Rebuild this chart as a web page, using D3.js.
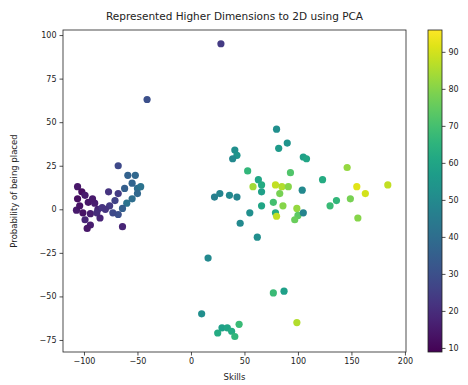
<!DOCTYPE html>
<html>
<head>
<meta charset="utf-8">
<script src="https://cdn.jsdelivr.net/npm/d3@7"></script>
<style>
  body { margin: 0; background: #fff; }
  svg text { font-family: "DejaVu Sans", sans-serif; fill: #222; }
</style>
</head>
<body>
<svg id="chart"></svg>
<script>
// skills (PC1), probability of being placed (PC2), colour value
const skills = [
  -68, -59, -52, -55, -50, -50, -55, -60, -64, -68, -77, -68, -71, -76, -80, -87, -64,
  -106, -102, -99, -106, -96, -90, -107, -101, -94, -99, -94, -97, -88, -83, -104,
  -92, -85, -73, -62, -47,
  -41, 28,
  80, 82, 90, 41, 43, 39, 105, 108, 53, 93, 63, 66, 58, 79, 85, 91, 83, 104, 66,
  22, 27, 36, 43, 66, 77, 86, 55, 79, 80, 99, 100, 97, 46, 62, 123, 146, 155, 163,
  149, 156, 130, 136, 184, 105,
  16, 10, 77, 87, 99, 29, 34, 38, 25, 41, 45
];
const placed = [
  25, 19.5, 19.5, 15, 12, 9, 6, 3.5, 0.5, -3, 10, 9, 5, 2, 0, 0, -10,
  13, 10, 8, 6, 4, 3.5, -0.5, -2, -2.5, -6, -9, -11, -2, 1, 2,
  6, -5, -2, 12, 13,
  63, 95,
  46, 35, 38, 34, 31, 29, 30, 29, 22, 21, 17, 14, 13, 14, 13, 13, 9, 11, 10,
  7, 9, 8, 7, 2, 4, 2, -2, -2, -4, 0.5, -3.5, -6, -8, -16, 17, 24, 13, 9,
  6, -5, 2, 5, 14, -2,
  -28, -60, -48, -47, -65, -68, -68, -70, -71, -73, -66
];
const colorValue = [
  28, 36, 38, 37, 40, 38, 40, 42, 35, 30, 22, 24, 26, 24, 22, 18, 18,
  14, 12, 15, 12, 14, 16, 15, 13, 16, 18, 16, 14, 20, 22, 13,
  15, 18, 28, 35, 42,
  30, 24,
  52, 56, 54, 52, 54, 50, 58, 60, 66, 72, 60, 62, 84, 88, 86, 80, 78, 50, 58,
  46, 48, 50, 48, 60, 70, 80, 52, 62, 88, 82, 74, 76, 50, 52, 62, 82, 92, 90,
  78, 80, 68, 66, 88, 48,
  50, 52, 68, 58, 86, 58, 60, 62, 62, 66, 68
];
const xTicks = [-100, -50, 0, 50, 100, 150, 200];
const yTicks = [-75, -50, -25, 0, 25, 50, 75, 100];
const cTicks = [10, 20, 30, 40, 50, 60, 70, 80, 90];

const width = 468, height = 385;
const plot = { left: 63, right: 406, top: 30, bottom: 352 };
const bar = { left: 428, right: 442 };

const svg = d3.select('#chart')
  .attr('width', width)
  .attr('height', height);

const x = d3.scaleLinear().domain([-119.6, 201]).range([plot.left, plot.right]);
const y = d3.scaleLinear().domain([-81.9, 102.9]).range([plot.bottom, plot.top]);
const c = d3.scaleSequential(d3.interpolateViridis).domain([8.9, 95.9]);

const points = skills.map((s, i) => ({ s, p: placed[i], v: colorValue[i] }));

svg.append('g')
  .selectAll('circle')
  .data(points)
  .enter()
  .append('circle')
  .attr('cx', d => x(d.s))
  .attr('cy', d => y(d.p))
  .attr('r', 3.6)
  .attr('fill', d => c(d.v));

// frame
svg.append('rect')
  .attr('x', plot.left).attr('y', plot.top)
  .attr('width', plot.right - plot.left).attr('height', plot.bottom - plot.top)
  .attr('fill', 'none').attr('stroke', '#222').attr('stroke-width', 0.8);

const fmt = d => d < 0 ? '\u2212' + Math.abs(d) : d;
const xAxis = svg.append('g')
  .attr('transform', `translate(0,${plot.bottom})`)
  .call(d3.axisBottom(x).tickValues(xTicks).tickSize(3.5).tickPadding(3).tickFormat(fmt));
const yAxis = svg.append('g')
  .attr('transform', `translate(${plot.left},0)`)
  .call(d3.axisLeft(y).tickValues(yTicks).tickSize(3.5).tickPadding(3).tickFormat(fmt));
[xAxis, yAxis].forEach(a => {
  a.select('.domain').remove();
  a.selectAll('.tick line').attr('stroke', '#222').attr('stroke-width', 0.8);
  a.selectAll('.tick text').style('font-size', '8px').attr('fill', '#333');
});

svg.append('text')
  .attr('x', (plot.left + plot.right) / 2).attr('y', 20)
  .attr('text-anchor', 'middle')
  .style('font-size', '10.5px')
  .text('Represented Higher Dimensions to 2D using PCA');

svg.append('text')
  .attr('x', (plot.left + plot.right) / 2).attr('y', 380)
  .attr('text-anchor', 'middle')
  .style('font-size', '8.5px')
  .text('Skills');

svg.append('text')
  .attr('transform', `translate(17,${(plot.top + plot.bottom) / 2}) rotate(-90)`)
  .attr('text-anchor', 'middle')
  .style('font-size', '8.5px')
  .text('Probability of being placed');

// colorbar
const defs = svg.append('defs');
const grad = defs.append('linearGradient')
  .attr('id', 'viridis').attr('x1', 0).attr('y1', 1).attr('x2', 0).attr('y2', 0);
d3.range(0, 1.01, 0.05).forEach(t => {
  grad.append('stop').attr('offset', t).attr('stop-color', d3.interpolateViridis(t));
});
svg.append('rect')
  .attr('x', bar.left).attr('y', plot.top)
  .attr('width', bar.right - bar.left).attr('height', plot.bottom - plot.top)
  .attr('fill', 'url(#viridis)')
  .attr('stroke', '#222').attr('stroke-width', 0.8);

const cScale = d3.scaleLinear().domain(c.domain()).range([plot.bottom, plot.top]);
const cAxis = svg.append('g')
  .attr('transform', `translate(${bar.right},0)`)
  .call(d3.axisRight(cScale).tickValues(cTicks).tickSize(3.5).tickPadding(3));
cAxis.select('.domain').remove();
cAxis.selectAll('.tick line').attr('stroke', '#222').attr('stroke-width', 0.8);
cAxis.selectAll('.tick text').style('font-size', '8px').attr('fill', '#333');
</script>
</body>
</html>
